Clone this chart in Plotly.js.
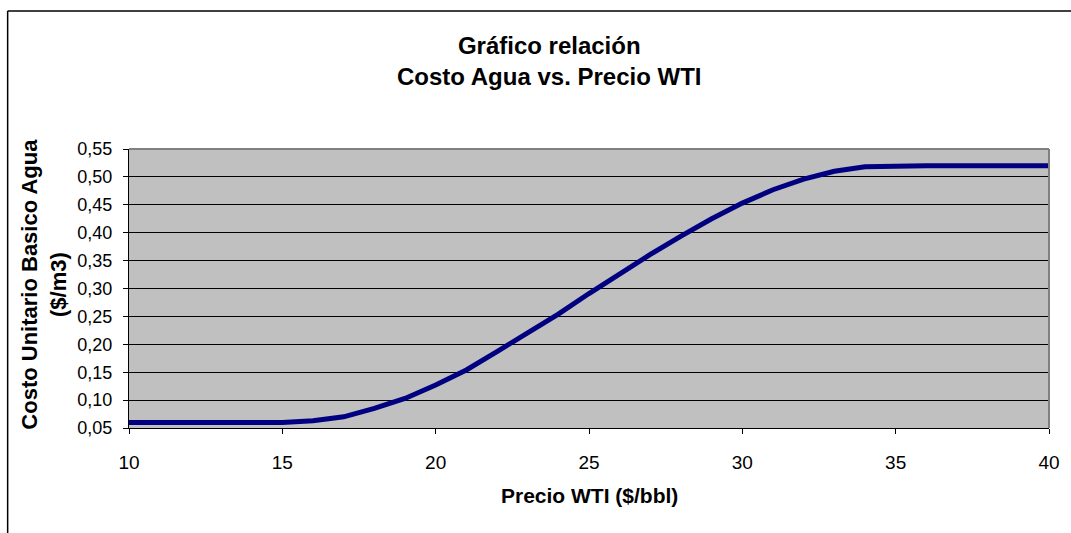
<!DOCTYPE html>
<html>
<head>
<meta charset="utf-8">
<script src="https://cdn.plot.ly/plotly-3.0.1.min.js"></script>
<style>html,body{margin:0;padding:0;background:#fff;}#chart{width:1071px;height:533px;}</style>
</head>
<body>
<div id="chart"></div>
<script>
const precioWTI = [10,11,12,13,14,15,16,17,18,19,20,21,22,23,24,25,26,27,28,29,30,31,32,33,34,35,36,37,38,39,40];
const costoAgua = [0.060,0.060,0.060,0.060,0.060,0.060,0.063,0.070,0.085,0.103,0.127,0.154,0.187,0.220,0.254,0.291,0.327,0.361,0.394,0.425,0.453,0.477,0.496,0.510,0.518,0.520,0.520,0.520,0.520,0.520,0.520];
const xTicks = [10,15,20,25,30,35,40];
const yTicks = [0.05,0.10,0.15,0.20,0.25,0.30,0.35,0.40,0.45,0.50,0.55];
const chartTitle = '<b>Gráfico relación<br>Costo Agua vs. Precio WTI</b>';
const xTitle = '<b>Precio WTI ($/bbl)</b>';
const yTitle = '<b>Costo Unitario Basico Agua<br>($/m3)</b>';

const font = 'Liberation Sans, Arial, sans-serif';
const trace = {
  x: precioWTI, y: costoAgua, type: 'scatter', mode: 'lines',
  line: {color: '#000080', width: 5}, hoverinfo: 'skip'
};
const layout = {
  width: 1071, height: 533,
  margin: {l: 129, r: 22, t: 149, b: 105},
  paper_bgcolor: '#ffffff', plot_bgcolor: '#c0c0c0',
  separators: ',.',
  showlegend: false,
  font: {family: font, color: '#000', size: 18},
  xaxis: {
    range: [10, 40], tickvals: xTicks, ticktext: xTicks.map(String),
    showgrid: false, zeroline: false,
    showline: true, linecolor: '#000', linewidth: 1,
    ticks: 'outside', ticklen: 5, tickcolor: '#000',
    ticklabelstandoff: 12,
    tickfont: {family: font, size: 19, color: '#000'}
  },
  yaxis: {
    range: [0.05, 0.55], tickvals: yTicks, tickformat: '.2f',
    showgrid: true, gridcolor: '#000', gridwidth: 1, zeroline: false,
    showline: true, linecolor: '#000', linewidth: 1,
    ticks: 'outside', ticklen: 5, tickcolor: '#000',
    ticklabelstandoff: 7,
    tickfont: {family: font, size: 18, color: '#000'}
  },
  annotations: [
    {text: chartTitle, xref: 'paper', yref: 'paper', x: 0.457, y: 1.315, xanchor: 'center', yanchor: 'middle',
     showarrow: false, font: {family: font, size: 24, color: '#000'}},
    {text: xTitle, xref: 'paper', yref: 'paper', x: 0.501, y: -0.243, xanchor: 'center', yanchor: 'middle',
     showarrow: false, font: {family: font, size: 21, color: '#000'}},
    {text: yTitle, xref: 'paper', yref: 'paper', x: -0.092, y: 0.515, xanchor: 'center', yanchor: 'middle',
     textangle: -90, showarrow: false, font: {family: font, size: 22, color: '#000'}}
  ],
  shapes: [
    {type: 'line', xref: 'paper', yref: 'paper', x0: 0, x1: 1, y0: 1, y1: 1, line: {color: '#808080', width: 2}},
    {type: 'line', xref: 'paper', yref: 'paper', x0: 1, x1: 1, y0: 0, y1: 1, line: {color: '#808080', width: 2}},
    {type: 'line', xref: 'paper', yref: 'paper', x0: -0.1319, x1: 1.03, y0: 1.4946, y1: 1.4946, line: {color: '#404040', width: 2}},
    {type: 'line', xref: 'paper', yref: 'paper', x0: -0.1319, x1: -0.1319, y0: -0.5, y1: 1.4946, line: {color: '#000', width: 1.5}}
  ]
};
Plotly.newPlot('chart', [trace], layout, {staticPlot: true, displayModeBar: false});
</script>
</body>
</html>
